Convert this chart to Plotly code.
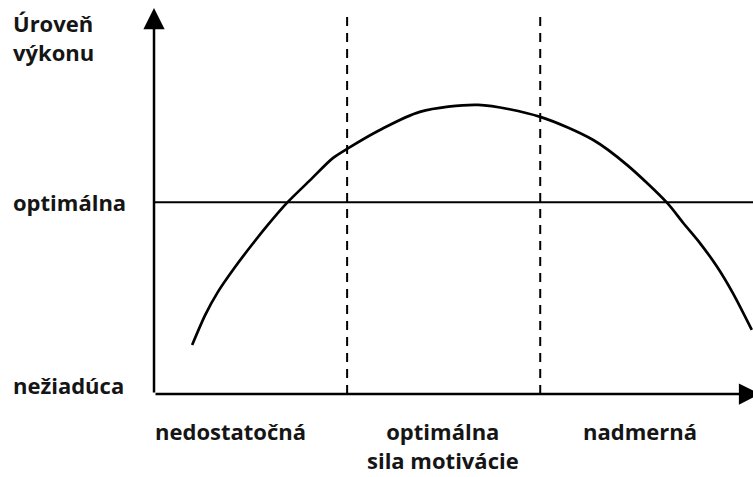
import plotly.graph_objects as go

# ---- data (conceptual units: motivation 0..10, performance 0..10) ----
motivation = [0.64, 0.86, 1.07, 1.36, 1.64, 1.91, 2.23, 2.62, 3.00, 3.26, 3.79,
              4.46, 5.44, 6.48, 7.37, 7.94, 8.61, 8.88, 9.16, 9.45, 9.71, 10.03]
performance = [1.27, 2.05, 2.64, 3.29, 3.86, 4.38, 4.95, 5.54, 6.11, 6.37, 6.84,
               7.31, 7.49, 7.18, 6.58, 5.93, 4.95, 4.43, 3.91, 3.29, 2.62, 1.66]
optimal_level = 4.97
zone_bounds = [3.24, 6.48]
zone_top = 9.9
zone_labels = ["nedostatočná", "optimálna<br>sila motivácie", "nadmerná"]
zone_label_x = [1.28, 4.85, 8.15]
level_labels = ["optimálna", "nežiadúca"]
level_label_y = [optimal_level, 0.23]
y_title = "Úroveň<br>výkonu"

x_range = [-2.584, 10.05]
y_range = [-2.150, 10.207]

FONT = dict(family="Open Sans", size=22, color="#151515", weight="bold")
W, H = 753, 477

fig = go.Figure()

# curve
fig.add_trace(go.Scatter(x=motivation, y=performance, mode="lines",
                         line=dict(color="black", width=2.7, shape="spline", smoothing=0.8),
                         hoverinfo="skip", showlegend=False))

# optimal level line
fig.add_shape(type="line", x0=0, x1=x_range[1], y0=optimal_level, y1=optimal_level,
              line=dict(color="black", width=2))

# zone boundaries
for xb in zone_bounds:
    fig.add_shape(type="line", x0=xb, x1=xb, y0=0, y1=zone_top,
                  line=dict(color="black", width=2, dash="9px,7px"))

# axes with arrows
fig.add_annotation(x=0, y=10.0, ax=0, ay=0, xref="x", yref="y", axref="x", ayref="y",
                   text="", showarrow=True, arrowhead=2, arrowsize=1.7, arrowwidth=2.5,
                   arrowcolor="black", standoff=0)
fig.add_annotation(x=10.17, y=0, ax=0, ay=0, xref="x", yref="y", axref="x", ayref="y",
                   text="", showarrow=True, arrowhead=2, arrowsize=1.7, arrowwidth=2.5,
                   arrowcolor="black", standoff=0)

# axis title
fig.add_annotation(x=11 / W, y=1 - 6 / H, xref="paper", yref="paper",
                   text=y_title, showarrow=False, xanchor="left", yanchor="top",
                   align="left", font=FONT)

# level labels
for lab, yv in zip(level_labels, level_label_y):
    fig.add_annotation(x=11 / W, y=yv, xref="paper", yref="y", text=lab,
                       showarrow=False, xanchor="left", yanchor="middle", font=FONT)

# zone labels
for lab, xv in zip(zone_labels, zone_label_x):
    fig.add_annotation(x=xv, y=1 - 415 / H, xref="x", yref="paper", text=lab,
                       showarrow=False, xanchor="center", yanchor="top",
                       align="center", borderpad=0, font=FONT)

fig.update_layout(
    width=W, height=H,
    margin=dict(l=0, r=0, t=0, b=0),
    paper_bgcolor="white", plot_bgcolor="white",
    xaxis=dict(range=x_range, visible=False, fixedrange=True),
    yaxis=dict(range=y_range, visible=False, fixedrange=True),
    showlegend=False,
)

fig.write_html("out.html", config={"displayModeBar": False},
               post_script="document.body.style.margin='0px';")
